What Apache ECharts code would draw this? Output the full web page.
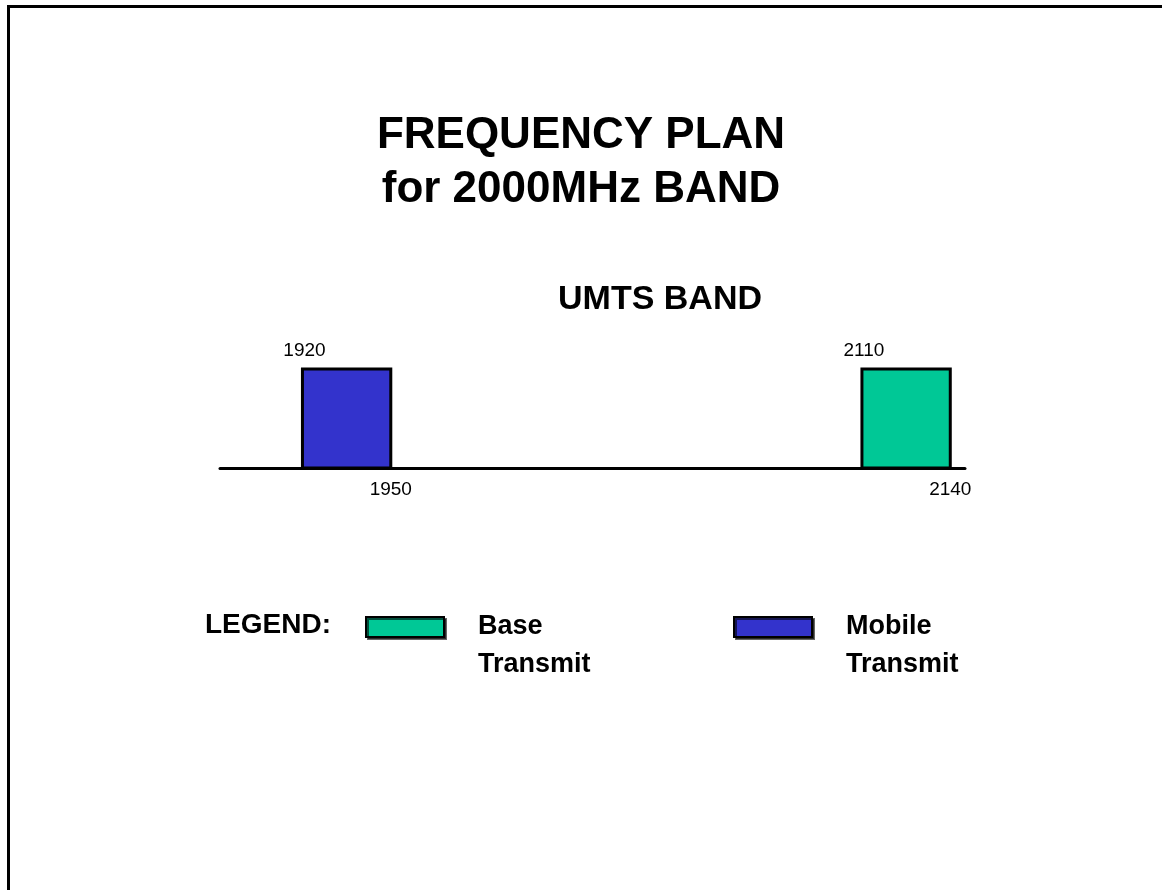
<!DOCTYPE html>
<html>
<head>
<meta charset="utf-8">
<title>Frequency plan for 2000MHz band</title>
<script src="https://cdn.jsdelivr.net/npm/echarts@6/dist/echarts.min.js"></script>
<style>
  html, body { margin: 0; padding: 0; background: #fff; }
  .com-container { position: relative; width: 1162px; height: 890px; overflow: hidden; }
  .com-frame {
    position: absolute; left: 7px; top: 5px; right: -10px; bottom: -10px;
    border-left: 3px solid #000; border-top: 3px solid #000;
  }
  .com-chart { position: absolute; left: 0; top: 0; width: 1162px; height: 890px; }
</style>
</head>
<body>
<div class="com-container">
  <div class="com-frame"></div>
  <div class="com-chart" id="plan_chart"></div>
</div>
<script>
// frequency bands (MHz)
const mobileName = "Mobile Transmit";
const mobileBand = [1920, 1950];
const baseName = "Base Transmit";
const baseBand = [2110, 2140];
// axis extent (MHz)
const axisMin = 1892;
const axisMax = 2145;

const FONT = "'Liberation Sans', Arial, sans-serif";

function renderBand(color) {
  return function (params, api) {
    const p0 = api.coord([api.value(0), 1]);
    const p1 = api.coord([api.value(1), 0]);
    return {
      type: "group",
      children: [
        {
          type: "rect",
          shape: { x: p0[0], y: p0[1], width: p1[0] - p0[0], height: p1[1] - p0[1] },
          style: { fill: color, stroke: "#000", lineWidth: 3 },
        },
        {
          type: "text",
          x: p0[0] + 2,
          y: p0[1] - 18,
          style: {
            text: String(api.value(0)), fill: "#000", fontFamily: FONT, fontSize: 19,
            align: "center", verticalAlign: "middle",
          },
        },
        {
          type: "text",
          x: p1[0],
          y: p1[1] + 22,
          style: {
            text: String(api.value(1)), fill: "#000", fontFamily: FONT, fontSize: 19,
            align: "center", verticalAlign: "middle",
          },
        },
      ],
    };
  };
}

function legendFor(name, left) {
  return {
    data: [name],
    left: left,
    top: 565,
    icon: "rect",
    itemWidth: 78,
    itemHeight: 20,
    selectedMode: false,
    itemStyle: {
      borderColor: "#000", borderWidth: 2,
      shadowColor: "rgba(0,0,0,0.6)", shadowOffsetX: 2, shadowOffsetY: 2,
    },
    // blank first line keeps the first word level with the swatch
    formatter: (n) => "\n" + n.replace(" ", "\n"),
    textStyle: {
      color: "#000", fontFamily: FONT, fontWeight: "bold", fontSize: 27,
      lineHeight: 38, padding: [0, 0, 0, 29],
    },
  };
}

const chartInstance = echarts.init(document.getElementById("plan_chart"));
const initOption = {
  animation: false,
  title: [
    {
      text: "FREQUENCY PLAN\nfor 2000MHz BAND",
      left: "center",
      top: 104,
      textStyle: { color: "#000", fontFamily: FONT, fontWeight: "bold", fontSize: 44, lineHeight: 54 },
    },
    {
      text: "UMTS BAND",
      left: 553,
      top: 278,
      textStyle: { color: "#000", fontFamily: FONT, fontWeight: "bold", fontSize: 34 },
    },
    {
      text: "LEGEND:",
      left: 200,
      top: 606,
      textStyle: { color: "#000", fontFamily: FONT, fontWeight: "bold", fontSize: 28 },
    },
  ],
  legend: [legendFor(baseName, 360), legendFor(mobileName, 728)],
  grid: { left: 220, right: 197, top: 369, bottom: 422 },
  xAxis: {
    type: "value",
    min: axisMin,
    max: axisMax,
    axisLine: { show: true, lineStyle: { color: "#000", width: 3 } },
    axisTick: { show: false },
    axisLabel: { show: false },
    splitLine: { show: false },
  },
  yAxis: {
    type: "value",
    min: 0,
    max: 1,
    show: false,
  },
  series: [
    {
      name: mobileName,
      type: "custom",
      itemStyle: { color: "#3333CC" },
      renderItem: renderBand("#3333CC"),
      encode: { x: [0, 1] },
      data: [mobileBand],
    },
    {
      name: baseName,
      type: "custom",
      itemStyle: { color: "#00C896" },
      renderItem: renderBand("#00C896"),
      encode: { x: [0, 1] },
      data: [baseBand],
    },
  ],
};
chartInstance.setOption(initOption);
</script>
</body>
</html>
